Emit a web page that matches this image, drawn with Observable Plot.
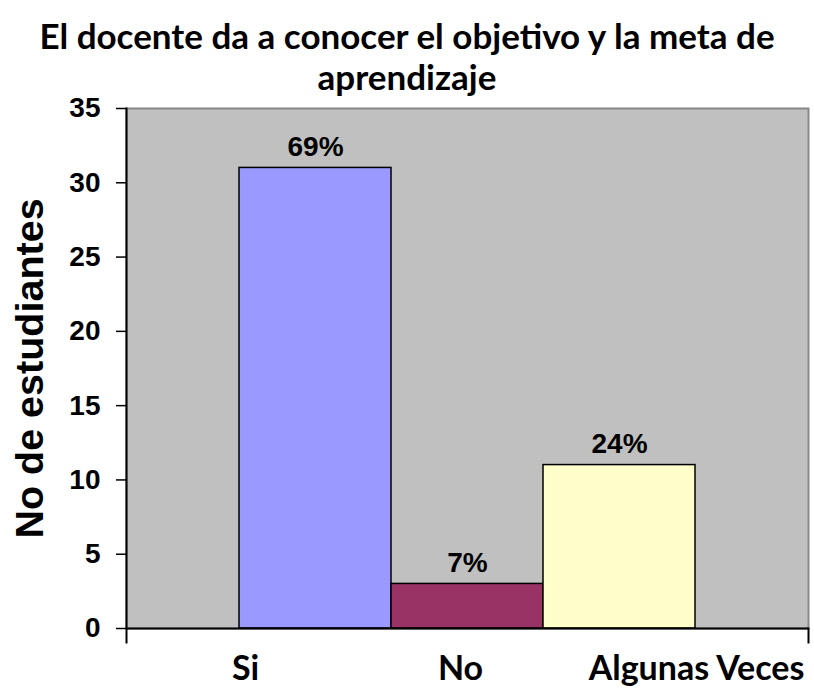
<!DOCTYPE html>
<html><head><meta charset="utf-8">
<script src="https://cdn.jsdelivr.net/npm/d3@7"></script>
<script src="https://cdn.jsdelivr.net/npm/@observablehq/plot@0.6"></script>
<style>
body{margin:0;background:#fff;}
#title{height:90px;width:814px;text-align:center;font-family:Lato,sans-serif;font-weight:bold;font-size:35px;line-height:41px;padding-top:15px;box-sizing:border-box;white-space:nowrap;color:#000}
#chart svg{display:block}
</style></head><body>
<div id="title">El docente da a conocer el objetivo y la meta de<br>aprendizaje</div>
<div id="chart"></div>
<script>
const categories = ["Si", "No", "Algunas Veces"];
const values = [31, 3, 11];
const percents = ["69%", "7%", "24%"];
const colors = ["#9999FF", "#993366", "#FFFFCC"];
const yTicks = [0, 5, 10, 15, 20, 25, 30, 35];
const yLabel = "No de estudiantes";

const data = categories.map((c, i) => ({cat: c, value: values[i], pct: percents[i]}));
const arial = "'Liberation Sans', Arial, sans-serif";
const calibri = "Lato, sans-serif";

const chart = Plot.plot({
  width: 814,
  height: 602,
  marginLeft: 126,
  marginRight: 6,
  marginTop: 18,
  marginBottom: 64,
  style: {fontFamily: arial, background: "transparent", color: "#000", overflow: "visible"},
  x: {domain: categories, paddingInner: 0, paddingOuter: 0.74, axis: null},
  y: {domain: [0, 35], axis: null},
  color: {domain: categories, range: colors},
  marks: [
    Plot.frame({fill: "#c0c0c0", stroke: "#888", strokeWidth: 2}),
    Plot.barY(data, {x: "cat", y: "value", fill: "cat", stroke: "#000", strokeWidth: 1.5}),
    Plot.text(data, {x: "cat", y: "value", text: "pct", dy: -12, lineAnchor: "bottom", fontSize: 28, fontWeight: "bold", fill: "#000"}),
    Plot.ruleY([0], {stroke: "#000", strokeWidth: 2}),
    Plot.frame({anchor: "left", stroke: "#000", strokeWidth: 2, insetBottom: -14}),
    Plot.frame({anchor: "right", stroke: "#000", strokeWidth: 2, insetTop: 520, insetBottom: -14}),
    Plot.axisY(yTicks, {tickSize: 10, tickPadding: 16, fontSize: 28, fontWeight: "bold", stroke: "#000", strokeWidth: 1.5, label: null}),
    Plot.text([yLabel], {frameAnchor: "left", rotate: -90, dx: -96, textAnchor: "middle", lineAnchor: "middle", fontSize: 39.5, fontWeight: "bold", fill: "#000"}),
    Plot.axisX(["Si"], {tickSize: 0, tickPadding: 27, dx: -70, fontSize: 34, fontWeight: "bold", fontFamily: calibri, label: null}),
    Plot.axisX(["No"], {tickSize: 0, tickPadding: 27, dx: -7, fontSize: 34, fontWeight: "bold", fontFamily: calibri, label: null}),
    Plot.axisX(["Algunas Veces"], {tickSize: 0, tickPadding: 27, dx: 77, fontSize: 34, fontWeight: "bold", fontFamily: calibri, label: null})
  ]
});
document.getElementById("chart").appendChild(chart);
</script>
</body></html>
